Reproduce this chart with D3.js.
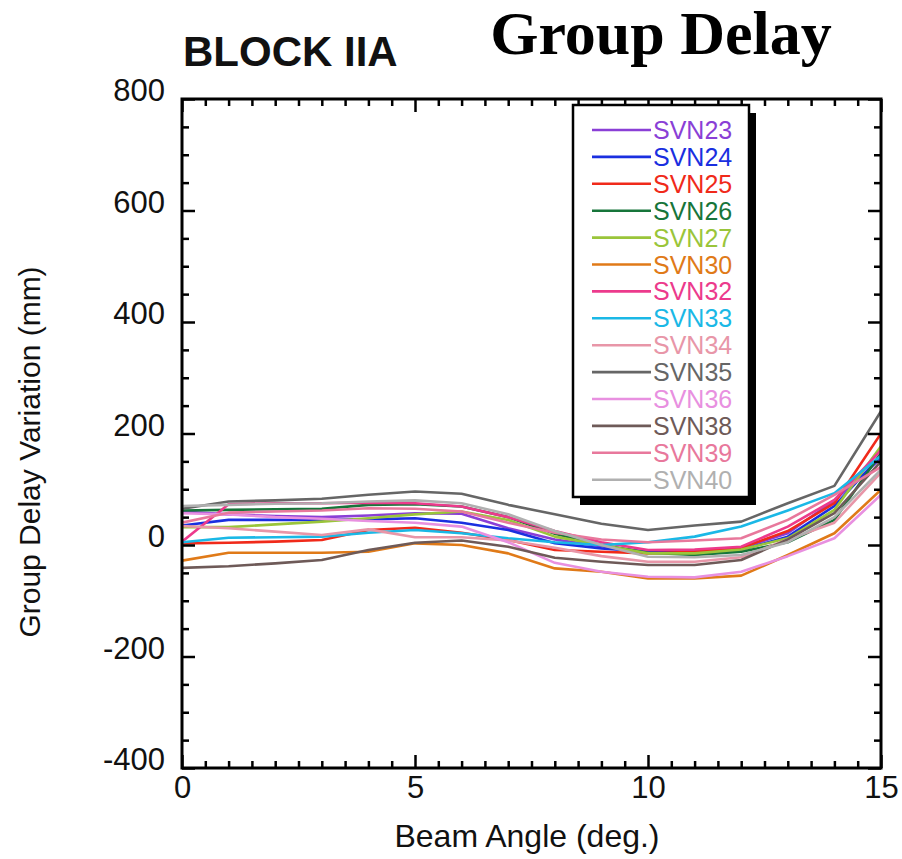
<!DOCTYPE html>
<html><head><meta charset="utf-8">
<script src="https://cdn.jsdelivr.net/npm/d3@7"></script>
<style>body{margin:0;background:#fff;}svg{display:block;}</style>
</head><body>
<svg id="chart" width="902" height="859"></svg>
<script>
const angles = [0,1,2,3,4,5,6,7,8,9,10,11,12,13,14,15];
const seriesNames = ["SVN23","SVN24","SVN25","SVN26","SVN27","SVN30","SVN32","SVN33","SVN34","SVN35","SVN36","SVN38","SVN39","SVN40"];
const seriesColors = ["#8a3fd6","#1a2fe0","#f02a1a","#17753a","#9ac53a","#e07a18","#ec3a8c","#1ab8e6","#e896a8","#666666","#e890e0","#6e5a58","#e8789c","#b0b0b0"];
const svn23 = [60,55,52,50,53,57,56,30,10,-2,-12,-10,-5,21,80,155];
const svn24 = [35,45,45,45,46,48,40,27,3,-6,-12,-14,-9,15,70,160];
const svn25 = [3,4,6,9,27,31,22,9,-9,-12,-15,-12,-5,25,75,200];
const svn26 = [62,63,64,65,72,73,69,50,20,0,-14,-18,-12,5,45,165];
const svn27 = [32,32,37,42,48,55,60,45,15,0,-15,-15,-8,12,63,177];
const svn30 = [-28,-14,-14,-14,-12,3,0,-15,-42,-48,-60,-60,-55,-18,21,99];
const svn32 = [6,73,75,75,76,75,69,50,25,5,-9,-8,-3,33,81,170];
const svn33 = [5,13,14,15,22,27,21,12,5,0,5,15,33,62,93,160];
const svn34 = [34,30,24,18,28,14,14,8,-5,-20,-30,-30,-22,10,40,130];
const svn35 = [65,78,80,83,90,96,92,72,55,38,27,35,42,75,106,240];
const svn36 = [57,55,50,47,43,40,33,5,-32,-48,-57,-58,-48,-20,12,90];
const svn38 = [-41,-38,-33,-27,-9,4,8,-3,-23,-30,-36,-36,-27,10,57,150];
const svn39 = [40,58,60,62,66,65,60,40,22,10,5,8,12,45,90,140];
const svn40 = [70,72,74,75,78,80,75,55,25,0,-21,-22,-18,5,50,135];
const seriesValues = [svn23,svn24,svn25,svn26,svn27,svn30,svn32,svn33,svn34,svn35,svn36,svn38,svn39,svn40];
const xMajorTicks = [0,5,10,15];
const yMajorTicks = [800,600,400,200,0,-200,-400];
const titleText = "Group Delay";
const blockText = "BLOCK IIA";
const xTitle = "Beam Angle (deg.)";
const yTitle = "Group Delay Variation (mm)";

const L = 182, R = 881, T = 99, B = 768;
const svg = d3.select("#chart");
const x = d3.scaleLinear().domain([0,15]).range([L,R]);
const y = d3.scaleLinear().domain([-400,800]).range([B,T]);
const xMinor = d3.range(0,15.01,0.5).filter(v => v % 5 !== 0);
const yMinor = d3.range(-400,801,50).filter(v => v % 200 !== 0);

svg.append("defs").append("clipPath").attr("id","clip")
  .append("rect").attr("x",L).attr("y",T).attr("width",R-L).attr("height",B-T);

const line = d3.line().x((d,i)=>x(angles[i])).y(d=>y(d));
const lg = svg.append("g").attr("clip-path","url(#clip)");
seriesValues.forEach((vals,i)=>{
  lg.append("path").attr("d",line(vals)).attr("fill","none")
    .attr("stroke",seriesColors[i]).attr("stroke-width",2.6).attr("stroke-linejoin","round");
});

function styleAxis(g){
  g.select(".domain").remove();
  g.selectAll("line").attr("stroke","#000").attr("stroke-width",2.5);
}
const fontFam = "'Liberation Sans', Arial, Helvetica, sans-serif";
const fmt = d => String(d);
svg.append("g").attr("transform",`translate(0,${B})`)
  .call(d3.axisBottom(x).tickValues(xMajorTicks).tickSize(-13).tickPadding(8).tickFormat(fmt))
  .call(styleAxis)
  .call(g=>g.selectAll("text").attr("font-size",31).attr("font-family",fontFam).attr("fill","#111").attr("dy","0.71em"));
svg.append("g").attr("transform",`translate(0,${B})`)
  .call(d3.axisBottom(x).tickValues(xMinor).tickSize(-7).tickFormat("")).call(styleAxis);
svg.append("g").attr("transform",`translate(0,${T})`)
  .call(d3.axisTop(x).tickValues(xMajorTicks).tickSize(-13).tickFormat("")).call(styleAxis);
svg.append("g").attr("transform",`translate(0,${T})`)
  .call(d3.axisTop(x).tickValues(xMinor).tickSize(-7).tickFormat("")).call(styleAxis);
svg.append("g").attr("transform",`translate(${L},0)`)
  .call(d3.axisLeft(y).tickValues(yMajorTicks).tickSize(-13).tickPadding(17).tickFormat(fmt))
  .call(styleAxis)
  .call(g=>g.selectAll("text").attr("font-size",31).attr("font-family",fontFam).attr("fill","#111").attr("dy","0.05em"));
svg.append("g").attr("transform",`translate(${L},0)`)
  .call(d3.axisLeft(y).tickValues(yMinor).tickSize(-7).tickFormat("")).call(styleAxis);
svg.append("g").attr("transform",`translate(${R},0)`)
  .call(d3.axisRight(y).tickValues(yMajorTicks).tickSize(-13).tickFormat("")).call(styleAxis);
svg.append("g").attr("transform",`translate(${R},0)`)
  .call(d3.axisRight(y).tickValues(yMinor).tickSize(-7).tickFormat("")).call(styleAxis);

svg.append("rect").attr("x",L).attr("y",T).attr("width",R-L).attr("height",B-T)
  .attr("fill","none").attr("stroke","#000").attr("stroke-width",3);

const legX = 573, legY = 105, legW = 176, legH = 392, rowH = 26.9;
svg.append("rect").attr("x",legX+7).attr("y",legY+8).attr("width",legW).attr("height",legH).attr("fill","#000");
svg.append("rect").attr("x",legX).attr("y",legY).attr("width",legW).attr("height",legH)
  .attr("fill","#fff").attr("stroke","#000").attr("stroke-width",2.5);
seriesNames.forEach((n,i)=>{
  const cy = legY + 25 + i*rowH;
  svg.append("line").attr("x1",legX+19).attr("x2",legX+78).attr("y1",cy).attr("y2",cy)
    .attr("stroke",seriesColors[i]).attr("stroke-width",2.6);
  svg.append("text").attr("x",legX+80).attr("y",cy).attr("dy","0.36em")
    .attr("font-size",25).attr("font-family",fontFam).attr("fill",seriesColors[i]).text(n);
});

svg.append("text").attr("x",661).attr("y",54).attr("text-anchor","middle")
  .attr("font-family","'Liberation Serif', 'Times New Roman', serif").attr("font-weight","bold")
  .attr("font-size",62).attr("fill","#000").text(titleText);
svg.append("text").attr("x",183).attr("y",66)
  .attr("font-family",fontFam).attr("font-weight","bold").attr("font-size",42).attr("fill","#111").text(blockText);
svg.append("text").attr("x",527).attr("y",847).attr("text-anchor","middle")
  .attr("font-family",fontFam).attr("font-size",32).attr("fill","#111").text(xTitle);
svg.append("text").attr("transform","translate(40,452) rotate(-90)").attr("text-anchor","middle")
  .attr("font-family",fontFam).attr("font-size",30).attr("fill","#111").text(yTitle);
</script>
</body></html>
